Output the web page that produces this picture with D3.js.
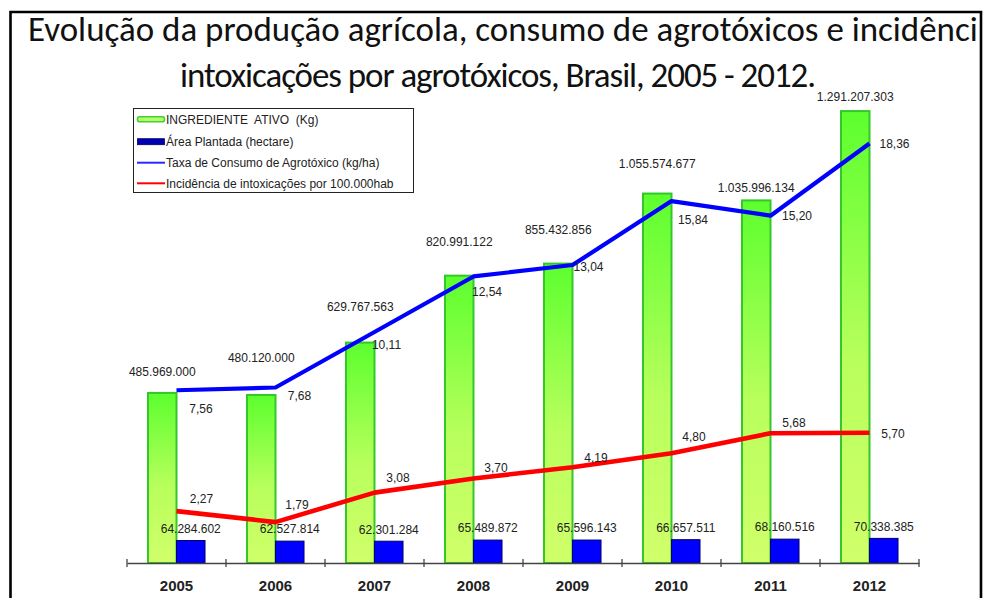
<!DOCTYPE html>
<html><head><meta charset="utf-8">
<script src="https://cdn.jsdelivr.net/npm/d3@7"></script>
<style>
html,body{margin:0;padding:0;background:#fff;}
svg{display:block;}
</style></head>
<body>
<svg id="chart" width="983" height="598"></svg>
<script>
// ---------- data ----------
const years = ["2005","2006","2007","2008","2009","2010","2011","2012"];
const ingredienteAtivo = [485969000, 480120000, 629767563, 820991122, 855432856, 1055574677, 1035996134, 1291207303];
const areaPlantada = [64284602, 62527814, 62301284, 65489872, 65596143, 66657511, 68160516, 70338385];
const taxaConsumo = [7.56, 7.68, 10.11, 12.54, 13.04, 15.84, 15.20, 18.36];
const incidencia = [2.27, 1.79, 3.08, 3.70, 4.19, 4.80, 5.68, 5.70];
const titleLines = ["Evolução da produção agrícola, consumo de agrotóxicos e incidênci",
                    "intoxicações por agrotóxicos, Brasil, 2005 - 2012."];
const legendLabels = ["INGREDIENTE  ATIVO  (Kg)", "Área Plantada (hectare)",
                      "Taxa de Consumo de Agrotóxico (kg/ha)", "Incidência de intoxicações por 100.000hab"];

// label placement tweaks (layout only)
const ingLabelDy = [-21, -37, -36, -34, -34, -30, -13, -14];
const taxaLabelDx = [24.5, 24, 12, 13.5, 16, 21.5, 26.5, 25];
const taxaLabelDy = [18, 8, 13, 15, 2, 19, 0, 0];
const incLabelDx = [25, 21.5, 23.5, 22.5, 23.5, 22.5, 23.5, 23.5];
const incLabelDy = [-12, -17, -15, -11, -10, -17, -11, 1];

// ---------- setup ----------
const svg = d3.select("#chart");
const ptBR = d3.formatLocale({decimal: ",", thousands: ".", grouping: [3], currency: ["R$", ""]});
const fmtInt = ptBR.format(",d");
const fmtDec = ptBR.format(".2f");

const baseY = 563;
const x = d3.scaleBand().domain(years).range([127, 919]).paddingInner(0).paddingOuter(0);
const yBar = d3.scaleLinear().domain([0, 1.4e9]).range([baseY, baseY - 490]);
const yRate = d3.scaleLinear().domain([0, 20]).range([baseY, baseY - 457]);
const barW = x.bandwidth() * 0.288;
const cx = d => x(d) + x.bandwidth() / 2;

const defs = svg.append("defs");
const grad = defs.append("linearGradient").attr("id", "gGreen").attr("x1", 0).attr("y1", 0).attr("x2", 0).attr("y2", 1);
grad.append("stop").attr("offset", "0%").attr("stop-color", "#5cff2e");
grad.append("stop").attr("offset", "55%").attr("stop-color", "#b8ff5c");
grad.append("stop").attr("offset", "100%").attr("stop-color", "#d0ff6a");

const FONT = "'Liberation Sans', Arial, sans-serif";
const TFONT = "Carlito, Calibri, Lato, sans-serif";
const TXT = "#222";

// ---------- title ----------
const t1 = svg.append("text").attr("x", 28).attr("y", 41)
  .attr("font-family", TFONT).attr("font-size", 30).attr("fill", "#111")
  .text(titleLines[0]);
const tSize = 30 * 950 / t1.node().getComputedTextLength();
t1.attr("font-size", tSize);
const t2 = svg.append("text").attr("x", 180).attr("y", 87)
  .attr("font-family", TFONT).attr("font-size", tSize).attr("fill", "#111")
  .text(titleLines[1]);
const w2 = t2.node().getComputedTextLength();
t2.attr("letter-spacing", (635 - w2) / titleLines[1].length);

// ---------- bars ----------
const idx = d3.range(years.length);
svg.append("g").selectAll("rect").data(idx).join("rect")
  .attr("x", i => cx(years[i]) - barW)
  .attr("y", i => yBar(ingredienteAtivo[i]))
  .attr("width", barW)
  .attr("height", i => baseY - yBar(ingredienteAtivo[i]))
  .attr("fill", "url(#gGreen)").attr("stroke", "#33c72a").attr("stroke-width", 2);

svg.append("g").selectAll("rect").data(idx).join("rect")
  .attr("x", i => cx(years[i]))
  .attr("y", i => yBar(areaPlantada[i]))
  .attr("width", barW)
  .attr("height", i => baseY - yBar(areaPlantada[i]))
  .attr("fill", "#0000ff").attr("stroke", "#00006a").attr("stroke-width", 1);

// ---------- axis ----------
const axisG = svg.append("g").attr("transform", `translate(0,${baseY})`)
  .call(d3.axisBottom(x).tickSize(0).tickSizeOuter(0).tickPadding(17));
axisG.select(".domain").attr("stroke", "#444").attr("stroke-width", 1.3);
axisG.selectAll("text").attr("font-family", FONT).attr("font-size", 15).attr("font-weight", "bold").attr("fill", TXT);
const bounds = years.map(d => x(d)).concat([x(years[years.length - 1]) + x.bandwidth()]);
axisG.selectAll("line.sep").data(bounds).join("line").attr("class", "sep")
  .attr("x1", d => d).attr("x2", d => d).attr("y1", -4).attr("y2", 4)
  .attr("stroke", "#444").attr("stroke-width", 1.3);

// ---------- lines ----------
const lineTaxa = d3.line().x(i => cx(years[i])).y(i => yRate(taxaConsumo[i]));
const lineInc = d3.line().x(i => cx(years[i])).y(i => yRate(incidencia[i]));
svg.append("path").attr("d", lineTaxa(idx)).attr("fill", "none").attr("stroke", "#0000ff").attr("stroke-width", 4.2).attr("stroke-linejoin", "round");
svg.append("path").attr("d", lineInc(idx)).attr("fill", "none").attr("stroke", "#ff0000").attr("stroke-width", 4.6).attr("stroke-linejoin", "round");

// ---------- value labels ----------
const lab = svg.append("g").attr("font-family", FONT).attr("font-size", 12).attr("fill", TXT).attr("text-anchor", "middle");
lab.selectAll("text.ing").data(idx).join("text").attr("class", "ing")
  .attr("x", i => cx(years[i]) - barW / 2)
  .attr("y", i => yBar(ingredienteAtivo[i]) + ingLabelDy[i]).attr("dy", "0.36em")
  .text(i => fmtInt(ingredienteAtivo[i]));
lab.selectAll("text.area").data(idx).join("text").attr("class", "area")
  .attr("x", i => cx(years[i]) + barW / 2)
  .attr("y", i => yBar(areaPlantada[i]) - 12).attr("dy", "0.36em")
  .text(i => fmtInt(areaPlantada[i]));
lab.selectAll("text.taxa").data(idx).join("text").attr("class", "taxa")
  .attr("x", i => cx(years[i]) + taxaLabelDx[i])
  .attr("y", i => yRate(taxaConsumo[i]) + taxaLabelDy[i]).attr("dy", "0.36em")
  .text(i => fmtDec(taxaConsumo[i]));
lab.selectAll("text.inc").data(idx).join("text").attr("class", "inc")
  .attr("x", i => cx(years[i]) + incLabelDx[i])
  .attr("y", i => yRate(incidencia[i]) + incLabelDy[i]).attr("dy", "0.36em")
  .text(i => fmtDec(incidencia[i]));

// ---------- legend ----------
const leg = svg.append("g");
leg.append("rect").attr("x", 133.5).attr("y", 108.5).attr("width", 280).attr("height", 84)
  .attr("fill", "#fff").attr("stroke", "#222").attr("stroke-width", 1);
const legY = [119.3, 141.7, 162.7, 183.3];
leg.append("rect").attr("x", 137.5).attr("y", legY[0] - 2.5).attr("width", 27).attr("height", 5).attr("rx", 2)
  .attr("fill", "#b8ff70").attr("stroke", "#44d030").attr("stroke-width", 1.6);
leg.append("rect").attr("x", 137.5).attr("y", legY[1] - 3).attr("width", 27).attr("height", 6)
  .attr("fill", "#0000b0").attr("stroke", "#00006a").attr("stroke-width", 0.8);
leg.append("line").attr("x1", 137).attr("x2", 165).attr("y1", legY[2]).attr("y2", legY[2]).attr("stroke", "#2a2aff").attr("stroke-width", 2);
leg.append("line").attr("x1", 137).attr("x2", 165).attr("y1", legY[3]).attr("y2", legY[3]).attr("stroke", "#ff0000").attr("stroke-width", 2);
leg.selectAll("text").data(legendLabels).join("text")
  .attr("x", 166).attr("y", (d, i) => legY[i]).attr("dy", "0.36em")
  .attr("font-family", FONT).attr("font-size", 12).attr("fill", TXT)
  .style("white-space", "pre")
  .text(d => d);

// ---------- frame ----------
svg.append("path").attr("d", "M10.5,598 V12 H981 V598").attr("fill", "none").attr("stroke", "#000").attr("stroke-width", 2.6);
</script>
</body></html>
